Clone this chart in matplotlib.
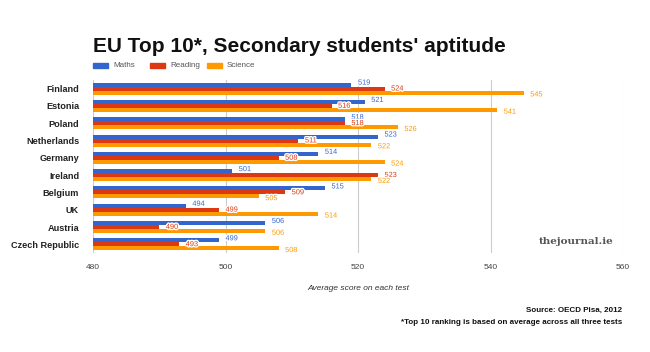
import matplotlib
matplotlib.use("Agg")
import matplotlib.pyplot as plt
import matplotlib.patheffects as pe
import numpy as np

countries = ["Finland", "Estonia", "Poland", "Netherlands", "Germany",
             "Ireland", "Belgium", "UK", "Austria", "Czech Republic"]
maths = [519, 521, 518, 523, 514, 501, 515, 494, 506, 499]
reading = [524, 516, 518, 511, 508, 523, 509, 499, 490, 493]
science = [545, 541, 526, 522, 524, 522, 505, 514, 506, 508]
series_names = ["Maths", "Reading", "Science"]
colors = ["#3366CC", "#DC3912", "#FF9900"]
xticks = [480, 500, 520, 540, 560]

plt.rcParams['font.family'] = ['Liberation Sans', 'DejaVu Sans']

fig = plt.figure(figsize=(6.5, 3.52), dpi=100)
ax = fig.add_axes([93/650, 1-253/352, 530/650, 173/352])

n = len(countries)
y = np.arange(n)
bh = 0.23
offsets = [-bh, 0, bh]
nudges = [-0.09, 0.02, 0.13]
base = 480
for vals, c, off, nd in zip([maths, reading, science], colors, offsets, nudges):
    ax.barh(y + off, np.array(vals) - base, left=base, height=bh, color=c, zorder=3)
    for yi, v in zip(y, vals):
        ax.text(v + 1.0, yi + off + nd, str(v), color=c, fontsize=5.3,
                va='center', ha='left', zorder=4,
                path_effects=[pe.withStroke(linewidth=2, foreground='white')])

ax.set_xlim(480, 560)
ax.set_ylim(n - 0.5, -0.5)
ax.set_yticks(y)
ax.set_yticklabels(countries, fontsize=6.6, fontweight='bold', color='#222222')
ax.set_xticks(xticks)
ax.set_xticklabels([str(t) for t in xticks], fontsize=6, color='#444444')
ax.tick_params(axis='x', length=0, pad=8)
ax.tick_params(axis='y', length=0, pad=10)
ax.grid(axis='x', color='#cccccc', linewidth=0.8, zorder=0)
for s in ax.spines.values():
    s.set_visible(False)

fig.text(93/650, 1-47/352, "EU Top 10*, Secondary students' aptitude",
         fontsize=15, fontweight='bold', va='center', ha='left', color='#111111')

# legend
lx = 93
for name, c in zip(series_names, colors):
    fig.patches.append(plt.Rectangle((lx/650, 1-68/352), 15/650, 5/352,
                                     transform=fig.transFigure, color=c))
    fig.text((lx + 20)/650, 1-65.5/352, name, fontsize=5.8, va='center',
             ha='left', color='#555555')
    lx += 57

fig.text(358/650, 1-289/352, "Average score on each test", fontsize=6,
         style='italic', ha='center', va='center', color='#333333')
fig.text(622/650, 1-310/352, "Source: OECD Pisa, 2012", fontsize=5.8,
         fontweight='bold', ha='right', va='center', color='#111111')
fig.text(622/650, 1-323/352, "*Top 10 ranking is based on average across all three tests",
         fontsize=5.8, fontweight='bold', ha='right', va='center', color='#111111')
fig.text(576/650, 1-241/352, "thejournal.ie", fontsize=7.5, fontweight='bold',
         family='DejaVu Serif', ha='center', va='center', color='#555555')

fig.savefig("out.png", dpi=100)
